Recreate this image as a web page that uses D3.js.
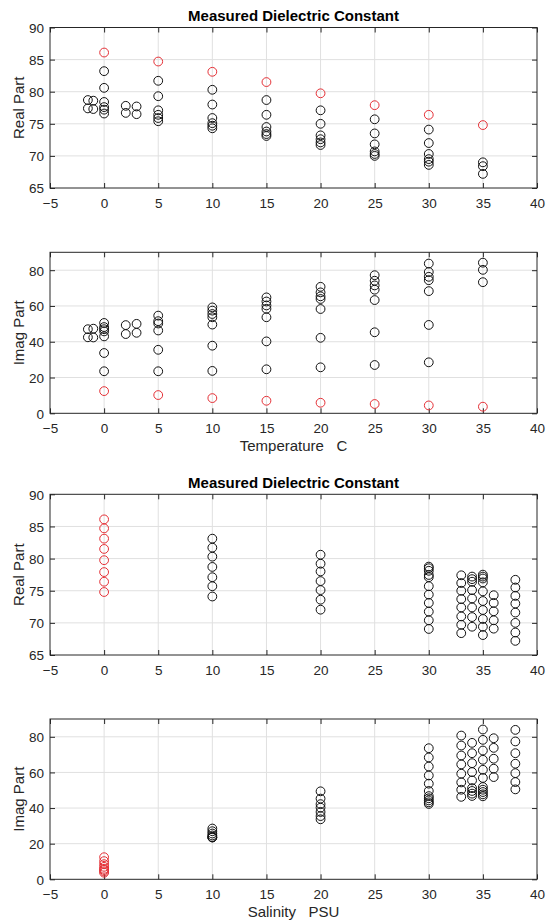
<!DOCTYPE html>
<html>
<head>
<meta charset="utf-8">
<script src="https://cdn.jsdelivr.net/npm/d3@7"></script>
<style>
  html, body { margin: 0; padding: 0; background: #fff; }
  svg { display: block; font-family: "Liberation Sans", Arial, Helvetica, sans-serif; }
</style>
</head>
<body>
<svg id="chart" width="547" height="921"></svg>
<script>
// ---------- DATA ----------
const chartTitle = "Measured Dielectric Constant";
const tempLabel = "Temperature   C";
const salLabel = "Salinity   PSU";
const realLabel = "Real Part";
const imagLabel = "Imag Part";

const xTicks = [-5, 0, 5, 10, 15, 20, 25, 30, 35, 40];
const realTicks = [65, 70, 75, 80, 85, 90];
const imagTicks = [0, 20, 40, 60, 80];

// Temperature panels (black points grouped per temperature)
const tempX = [-1.5, -1, 0, 2, 3, 5, 10, 15, 20, 25, 30, 35];
const tempRealBlack = [
  [78.7, 77.4],
  [78.6, 77.3],
  [83.2, 80.6, 78.4, 77.6, 77.2, 76.6],
  [77.8, 76.7],
  [77.7, 76.5],
  [81.7, 79.3, 77.1, 76.4, 75.9, 75.4],
  [80.3, 78.0, 75.9, 75.1, 74.7, 74.3],
  [78.7, 76.4, 74.5, 73.8, 73.4, 73.1],
  [77.1, 75.0, 73.2, 72.6, 72.1, 71.7],
  [75.7, 73.5, 71.8, 70.7, 70.3, 70.0],
  [74.1, 72.0, 70.3, 69.5, 69.1, 68.6],
  [69.0, 68.4, 67.2]
];
const tempImagBlack = [
  [47.0, 42.5],
  [47.3, 42.4],
  [50.5, 48.2, 47.0, 45.8, 43.0, 33.7, 23.5],
  [49.3, 44.3],
  [50.0, 45.0],
  [54.6, 51.5, 50.2, 46.3, 35.5, 23.5],
  [59.2, 57.4, 55.5, 53.7, 49.6, 37.8, 23.7],
  [64.8, 62.5, 60.3, 58.4, 53.7, 40.2, 24.6],
  [70.7, 67.6, 65.4, 63.9, 58.3, 42.2, 25.7],
  [77.2, 74.1, 71.5, 69.1, 63.3, 45.3, 27.0],
  [83.7, 79.0, 76.3, 74.4, 68.3, 49.4, 28.5],
  [84.2, 80.2, 73.3]
];
// Red points: fresh water (salinity 0) at each temperature
const redTemps = [0, 5, 10, 15, 20, 25, 30, 35];
const redReal = [86.1, 84.7, 83.1, 81.5, 79.75, 77.9, 76.4, 74.8];
const redImag = [12.4, 10.2, 8.5, 7.0, 5.9, 5.2, 4.4, 3.7];

// Salinity panels
const salX = [10, 20, 30, 33, 34, 35, 36, 38];
const salRealBlack = [
  [83.1, 81.7, 80.3, 78.7, 77.1, 75.7, 74.1],
  [80.6, 79.2, 78.0, 76.5, 75.1, 73.6, 72.05],
  [78.75, 78.5, 78.1, 77.45, 77.1, 75.7, 74.4, 73.1, 71.75, 70.4, 69.05],
  [77.4, 76.2, 75.0, 73.7, 72.4, 71.0, 69.7, 68.4],
  [77.2, 76.8, 76.4, 75.1, 73.8, 72.4, 70.9, 69.4],
  [77.5, 77.2, 76.9, 76.3, 74.9, 73.4, 72.0, 70.6, 69.4, 68.1],
  [74.3, 73.1, 71.8, 70.4, 69.1],
  [76.7, 75.5, 74.2, 73.0, 71.6, 70.0, 68.5, 67.2]
];
const salImagBlack = [
  [23.5, 23.5, 23.7, 24.6, 25.7, 27.0, 28.5],
  [33.7, 35.5, 37.8, 40.2, 42.2, 45.3, 49.4],
  [73.6, 68.4, 63.3, 58.3, 53.7, 49.6, 46.7, 45.5, 44.3, 43.2, 42.3],
  [80.7, 75.1, 69.5, 64.5, 59.3, 54.4, 50.3, 46.3],
  [76.6, 70.8, 65.2, 60.2, 55.5, 51.2, 49.6, 48.1, 46.8],
  [84.1, 78.3, 72.3, 67.1, 61.5, 56.9, 51.8, 50.3, 49.0, 47.7, 46.6],
  [79.2, 73.8, 67.7, 62.1, 57.4],
  [83.9, 77.4, 70.8, 64.9, 59.6, 54.6, 50.5]
];
const redSal = 0;

// ---------- DRAWING ----------
const svg = d3.select("#chart");
const left = 50, right = 537;
const axisColor = "#262626", gridColor = "#e0e0e0";
const blackColor = "#111111", redColor = "#e53036";
const tickFont = "13.5px", labelFont = "15px", titleFont = "15px";

function flatten(xs, groups) {
  const out = [];
  groups.forEach((g, i) => g.forEach(v => out.push([xs[i], v])));
  return out;
}

function panel(opts) {
  const g = svg.append("g");
  const x = d3.scaleLinear().domain([-5, 40]).range([left, right]);
  const y = d3.scaleLinear().domain(opts.yDomain).range([opts.bottom, opts.top]);
  const w = right - left, h = opts.bottom - opts.top;

  // grid
  g.append("g").selectAll("line").data(xTicks.slice(1, -1)).join("line")
    .attr("x1", d => x(d)).attr("x2", d => x(d))
    .attr("y1", opts.top).attr("y2", opts.bottom)
    .attr("stroke", gridColor).attr("stroke-width", 1);
  g.append("g").selectAll("line").data(opts.yTicks.filter(t => t > opts.yDomain[0] && t < opts.yDomain[1])).join("line")
    .attr("y1", d => y(d)).attr("y2", d => y(d))
    .attr("x1", left).attr("x2", right)
    .attr("stroke", gridColor).attr("stroke-width", 1);

  // axes (inward ticks on all four sides)
  const tl = 5;
  const bottomAx = g.append("g").attr("transform", `translate(0,${opts.bottom})`)
    .call(d3.axisBottom(x).tickValues(xTicks).tickSize(-tl).tickFormat(d3.format("d")));
  const topAx = g.append("g").attr("transform", `translate(0,${opts.top})`)
    .call(d3.axisTop(x).tickValues(xTicks).tickSize(-tl).tickFormat(""));
  const leftAx = g.append("g").attr("transform", `translate(${left},0)`)
    .call(d3.axisLeft(y).tickValues(opts.yTicks).tickSize(-tl).tickFormat(d3.format("d")));
  const rightAx = g.append("g").attr("transform", `translate(${right},0)`)
    .call(d3.axisRight(y).tickValues(opts.yTicks).tickSize(-tl).tickFormat(""));
  [bottomAx, topAx, leftAx, rightAx].forEach(a => {
    a.select(".domain").remove();
    a.selectAll("line").attr("stroke", axisColor).attr("stroke-width", 1);
    a.selectAll("text").attr("fill", axisColor).style("font-size", tickFont)
      .style("font-family", '"Liberation Sans", Arial, sans-serif');
  });
  bottomAx.selectAll("text").attr("dy", "0.71em").attr("y", 10.5);
  leftAx.selectAll("text").attr("dy", "0.36em").attr("x", -6);

  g.append("rect").attr("x", left).attr("y", opts.top).attr("width", w).attr("height", h)
    .attr("fill", "none").attr("stroke", axisColor).attr("stroke-width", 1);

  // points
  const cg = g.append("g").attr("fill", "none").attr("stroke-width", 1);
  cg.selectAll("circle.b").data(opts.black).join("circle").attr("class", "b")
    .attr("cx", d => x(d[0])).attr("cy", d => y(d[1])).attr("r", 4.4)
    .attr("stroke", blackColor);
  cg.selectAll("circle.r").data(opts.red).join("circle").attr("class", "r")
    .attr("cx", d => x(d[0])).attr("cy", d => y(d[1])).attr("r", 4.4)
    .attr("stroke", redColor);

  // y label
  g.append("text")
    .attr("transform", `translate(24,${(opts.top + opts.bottom) / 2}) rotate(-90)`)
    .attr("text-anchor", "middle").attr("fill", axisColor)
    .style("font-size", labelFont).text(opts.yLabel);

  if (opts.title) {
    g.append("text").attr("x", (left + right) / 2).attr("y", opts.top - 6.5)
      .attr("text-anchor", "middle").attr("fill", "#000")
      .style("font-size", titleFont).style("font-weight", "bold").text(opts.title);
  }
  if (opts.xLabel) {
    g.append("text").attr("x", (left + right) / 2).attr("y", opts.bottom + 38)
      .attr("text-anchor", "middle").attr("fill", axisColor)
      .style("font-size", labelFont).style("white-space", "pre").attr("xml:space", "preserve")
      .text(opts.xLabel);
  }
}

panel({
  top: 27.5, bottom: 188, yDomain: [65, 90], yTicks: realTicks, yLabel: realLabel,
  title: chartTitle,
  black: flatten(tempX, tempRealBlack),
  red: redTemps.map((t, i) => [t, redReal[i]])
});
panel({
  top: 252.3, bottom: 413.3, yDomain: [0, 90], yTicks: imagTicks, yLabel: imagLabel,
  xLabel: tempLabel,
  black: flatten(tempX, tempImagBlack),
  red: redTemps.map((t, i) => [t, redImag[i]])
});
panel({
  top: 494.3, bottom: 655, yDomain: [65, 90], yTicks: realTicks, yLabel: realLabel,
  title: chartTitle,
  black: flatten(salX, salRealBlack),
  red: redReal.map(v => [redSal, v])
});
panel({
  top: 719, bottom: 879.3, yDomain: [0, 90], yTicks: imagTicks, yLabel: imagLabel,
  xLabel: salLabel,
  black: flatten(salX, salImagBlack),
  red: redImag.map(v => [redSal, v])
});
</script>
</body>
</html>
